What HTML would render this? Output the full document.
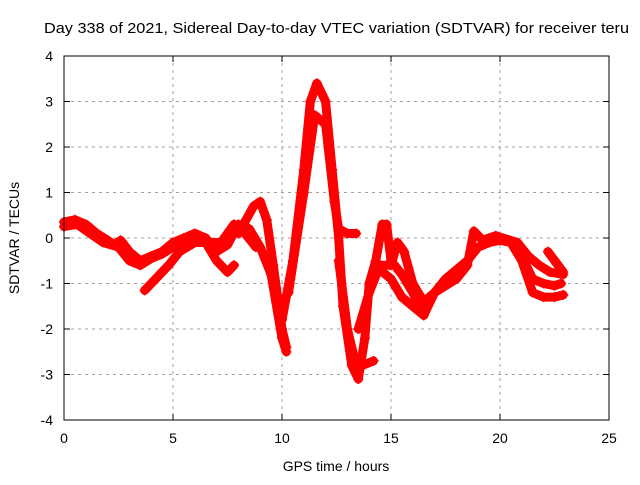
<!DOCTYPE html>
<html><head><meta charset="utf-8"><style>
body{margin:0;background:#fff;width:640px;height:480px;overflow:hidden}
svg{font-family:"Liberation Sans",sans-serif;font-size:14px}
</style></head><body>
<svg id="chart" width="640" height="480" viewBox="0 0 640 480">
<text x="44" y="33" font-size="15" textLength="585" lengthAdjust="spacingAndGlyphs">Day 338 of 2021, Sidereal Day-to-day VTEC variation (SDTVAR) for receiver teru</text>
<g id="grid"></g>
<g id="series"></g>
<rect x="64" y="56" width="545" height="364" fill="none" stroke="#000" stroke-width="1"/>
<g id="ticks"></g>
<text x="336" y="471" text-anchor="middle">GPS time / hours</text>
<text transform="translate(19,238) rotate(-90)" text-anchor="middle">SDTVAR / TECUs</text>
</svg>
<script>
const xTicks=[0,5,10,15,20,25];
const yTicks=[-4,-3,-2,-1,0,1,2,3,4];
const trackA=[[0,0.35],[0.5,0.4],[1,0.3],[1.5,0.1],[2,-0.05],[2.3,-0.15],[2.6,-0.05],[3,-0.3],[3.5,-0.5],[4,-0.4],[4.5,-0.3],[5,-0.1],[5.5,0],[6,0.1],[6.5,0],[7,-0.3],[7.5,-0.15],[8,0.3],[8.5,0.2],[9,-0.2],[9.5,-0.8],[10,-2.2],[10.2,-2.5]];
const trackB=[[0,0.25],[0.6,0.3],[1.2,0.1],[1.8,-0.1],[2.5,-0.2],[3,-0.5],[3.5,-0.6],[4,-0.45],[4.5,-0.35],[5,-0.2],[5.5,-0.05],[6,0],[6.5,-0.1],[7,-0.5],[7.5,-0.75],[7.8,-0.6]];
const trackC=[[3.7,-1.15],[4.2,-0.9],[4.8,-0.6],[5.3,-0.3],[6,-0.1],[6.6,-0.1],[7.2,-0.1],[7.8,0.3],[8.3,0.1],[8.8,-0.2]];
const trackD=[[8,0.1],[8.7,0.7],[9,0.8],[9.3,0.4],[9.6,-0.6],[10,-2],[10.2,-2.4]];
const trackE=[[10,-1.8],[10.5,-0.5],[11,1.5],[11.3,3],[11.6,3.4],[12,3],[12.3,1.5],[12.6,0],[12.8,-1.5],[13.2,-2.8],[13.5,-3.1],[13.8,-2.2],[14,-1],[14.3,-0.5],[14.6,0.3],[14.8,0.3],[15,-0.5],[15.5,-0.8],[16,-1.2],[16.5,-1.7]];
const trackF=[[10.3,-1.2],[11,1],[11.5,2.7],[12,2.5],[12.4,0.8],[12.6,0.2],[13,0.1],[13.4,0.1]];
const trackG=[[12.6,-0.5],[13,-2],[13.3,-2.6],[13.7,-2.8],[14.2,-2.7]];
const trackH=[[13.5,-2],[14,-1.2],[14.5,-0.6],[15,-0.6],[15.3,-0.1],[15.6,-0.3],[16,-1],[16.5,-1.4],[17,-1.2],[17.5,-0.9],[18,-0.7],[18.5,-0.5],[19,-0.2],[19.5,-0.1],[20,-0.05],[20.5,-0.1],[21,-0.5],[21.5,-1.2],[22,-1.3],[22.5,-1.3],[22.9,-1.25]];
const trackI=[[14.5,-0.7],[15,-0.9],[15.5,-1.3],[16,-1.5],[16.5,-1.7],[17,-1.2],[18,-0.9],[18.5,-0.6],[18.8,0.15],[19.2,-0.05],[19.8,0.05],[20.8,-0.1],[21.3,-0.4],[21.8,-0.6],[22.3,-0.75],[22.9,-0.8]];
const trackJ=[[21,-0.4],[21.5,-0.9],[22,-1],[22.5,-1.05],[22.8,-1]];
const trackK=[[22.2,-0.3],[22.9,-0.75]];
const tracks=[trackA,trackB,trackC,trackD,trackE,trackF,trackG,trackH,trackI,trackJ,trackK];
const NS='http://www.w3.org/2000/svg';
const X0=64,X1=609,Y0=420,Y1=56;
function xs(v){return X0+(v-0)/(25-0)*(X1-X0);}
function ys(v){return Y0-(v+4)/8*(Y0-Y1);}
const grid=document.getElementById('grid'),ticks=document.getElementById('ticks'),ser=document.getElementById('series');
function mk(tag,attrs,parent){const e=document.createElementNS(NS,tag);for(const k in attrs)e.setAttribute(k,attrs[k]);parent.appendChild(e);return e;}
xTicks.forEach(t=>{const x=xs(t);
 if(t>0&&t<25){const g=mk('line',{x1:x,x2:x,y1:Y1,y2:Y0,stroke:'#a0a0a0','stroke-dasharray':'3,4'},grid);
 
 }
 mk('line',{x1:x,x2:x,y1:Y0,y2:Y0-6,stroke:'#000'},ticks);mk('line',{x1:x,x2:x,y1:Y1,y2:Y1+6,stroke:'#000'},ticks);
 const l=mk('text',{x:x,y:443,'text-anchor':'middle'},ticks);l.textContent=t;
 
 });
yTicks.forEach(t=>{const y=ys(t);
 if(t>-4&&t<4){const g=mk('line',{x1:X0,x2:X1,y1:y,y2:y,stroke:'#a0a0a0','stroke-dasharray':'3,4'},grid);
 
 }
 mk('line',{x1:X0,x2:X0+6,y1:y,y2:y,stroke:'#000'},ticks);mk('line',{x1:X1,x2:X1-6,y1:y,y2:y,stroke:'#000'},ticks);
 const l=mk('text',{x:53,y:y+5,'text-anchor':'end'},ticks);l.textContent=t;
 
 });
tracks.forEach((tr,i)=>{
 const p=mk('polyline',{points:tr.map(d=>xs(d[0])+','+ys(d[1])).join(' '),fill:'none',stroke:'#ff0000','stroke-width':9,'stroke-linejoin':'round','stroke-linecap':'round'},ser);
 
 
 tr.forEach(d=>{const x=xs(d[0]),y=ys(d[1]);
  const m=mk('path',{d:`M${x-5},${y}H${x+5}M${x},${y-5}V${y+5}`,stroke:'#ff0000','stroke-width':1.5},ser);
  
  });
});
</script>
</body></html>
